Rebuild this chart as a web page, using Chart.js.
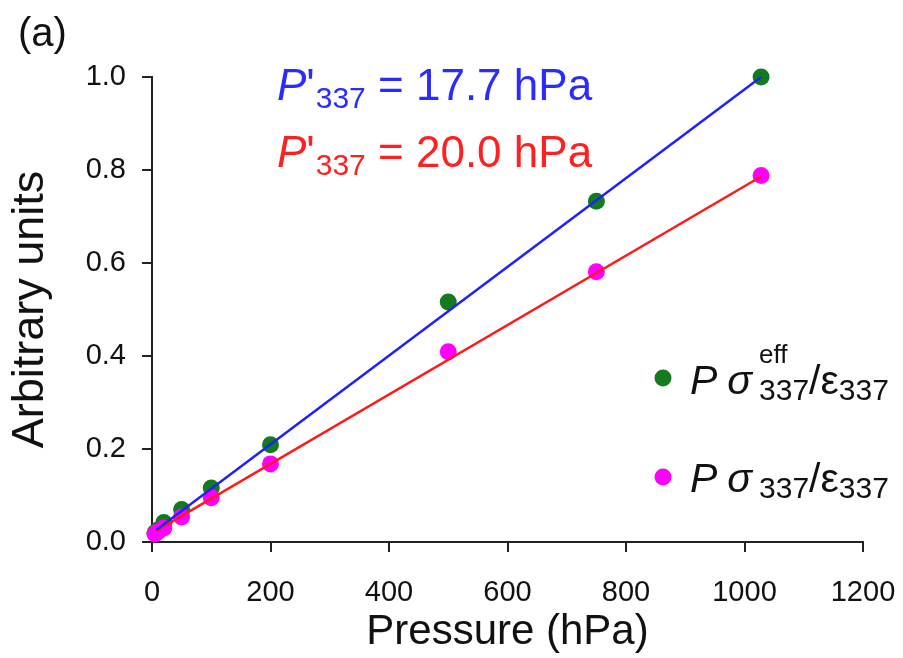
<html>
<head>
    <title>Pressure dependence</title>
</head>
<body style="margin:0; background:#fff">
<div style="width:903px; height:658px"><canvas id="pressure-chart"></canvas></div>
<script src="https://cdn.jsdelivr.net/npm/chart.js"></script>
<script>
    // measured points (pressure in hPa)
    var pressure = [5, 10, 20, 50, 100, 200, 500, 750, 1028];
    var effValues = [0.02, 0.026, 0.042, 0.07, 0.116, 0.209, 0.516, 0.733, 1.0];
    var sigmaValues = [0.017, 0.022, 0.03, 0.054, 0.095, 0.168, 0.409, 0.581, 0.788];

    // linear fits, drawn between two ends
    var fitX = [7, 1028];
    var effFit = [0.026, 1.0];
    var sigmaFit = [0.024, 0.786];

    var xTicks = [0, 200, 400, 600, 800, 1000, 1200];
    var yTicks = [0.0, 0.2, 0.4, 0.6, 0.8, 1.0];

    var FONT = '"Liberation Sans", Arial, sans-serif';

    function toPoints(xs, ys) {
        var out = [];
        for (var i = 0; i < xs.length; i++) out.push({x: xs[i], y: ys[i]});
        return out;
    }

    // draws a run of text pieces one after another on a baseline
    function drawRun(ctx, x, y, parts) {
        parts.forEach(function (p) {
            ctx.font = p.f;
            ctx.fillText(p.t, x, y + (p.dy || 0));
            if (!p.stay) x += ctx.measureText(p.t).width + (p.gap || 0);
        });
    }

    var textPlugin = {
        id: 'labels',
        afterDraw: function (chart) {
            var ctx = chart.ctx;
            ctx.save();
            ctx.textAlign = 'left';
            ctx.textBaseline = 'alphabetic';

            ctx.fillStyle = '#111';
            ctx.font = '40px ' + FONT;
            ctx.fillText('(a)', 18, 46);

            var big = '44px ' + FONT, bigI = 'italic 44px ' + FONT, sub = '30px ' + FONT;
            ctx.fillStyle = '#2b2bff';
            drawRun(ctx, 277, 100, [
                {t: 'P', f: bigI}, {t: "'", f: big, gap: 1}, {t: '337', f: sub, dy: 8},
                {t: ' = 17.7 hPa', f: big}
            ]);
            ctx.fillStyle = '#ff2020';
            drawRun(ctx, 277, 167, [
                {t: 'P', f: bigI}, {t: "'", f: big, gap: 1}, {t: '337', f: sub, dy: 8},
                {t: ' = 20.0 hPa', f: big}
            ]);

            // legend
            var lf = '41px ' + FONT, lfI = 'italic 41px ' + FONT, ls = '30px ' + FONT;
            ctx.fillStyle = '#137a1e';
            ctx.beginPath(); ctx.arc(663, 378, 8.5, 0, Math.PI * 2); ctx.fill();
            ctx.fillStyle = '#ff00ff';
            ctx.beginPath(); ctx.arc(663, 477, 8.5, 0, Math.PI * 2); ctx.fill();

            ctx.fillStyle = '#111';
            drawRun(ctx, 690, 394, [
                {t: 'P', f: lfI, gap: 10}, {t: 'σ', f: lfI, gap: 7},
                {t: 'eff', f: '26px ' + FONT, dy: -31, stay: true},
                {t: '337', f: ls, dy: 6}, {t: '/ε', f: lf}, {t: '337', f: ls, dy: 6}
            ]);
            drawRun(ctx, 690, 492, [
                {t: 'P', f: lfI, gap: 10}, {t: 'σ', f: lfI, gap: 7},
                {t: '337', f: ls, dy: 6}, {t: '/ε', f: lf}, {t: '337', f: ls, dy: 6}
            ]);
            ctx.restore();
        }
    };

    var ctx = document.getElementById('pressure-chart').getContext('2d');
    new Chart(ctx, {
        type: 'scatter',
        data: {
            datasets: [
                {
                    label: 'fit eff',
                    data: toPoints(fitX, effFit),
                    showLine: true,
                    borderColor: '#2020ff',
                    borderWidth: 2.5,
                    pointRadius: 0,
                    clip: false,
                    order: 1
                },
                {
                    label: 'fit sigma',
                    data: toPoints(fitX, sigmaFit),
                    showLine: true,
                    borderColor: '#ff1a1a',
                    borderWidth: 2.5,
                    pointRadius: 0,
                    clip: false,
                    order: 2
                },
                {
                    label: 'P sigma eff / eps',
                    data: toPoints(pressure, effValues),
                    backgroundColor: '#137a1e',
                    borderWidth: 0,
                    pointRadius: 8.5,
                    clip: false,
                    order: 4
                },
                {
                    label: 'P sigma / eps',
                    data: toPoints(pressure, sigmaValues),
                    backgroundColor: '#ff00ff',
                    borderWidth: 0,
                    pointRadius: 8.5,
                    clip: false,
                    order: 3
                }
            ]
        },
        options: {
            responsive: true,
            maintainAspectRatio: false,
            animation: false,
            layout: {padding: {top: 77, right: 40, left: 0, bottom: 0}},
            plugins: {legend: {display: false}, tooltip: {enabled: false}},
            scales: {
                x: {
                    type: 'linear',
                    min: xTicks[0],
                    max: xTicks[xTicks.length - 1],
                    afterBuildTicks: function (s) { s.ticks = xTicks.map(function (v) { return {value: v}; }); },
                    ticks: {font: {size: 29, family: FONT}, color: '#111', padding: 24, maxRotation: 0,
                        callback: function (v) { return String(v); }},
                    grid: {drawOnChartArea: false, tickLength: 10, color: '#222', tickColor: '#222', lineWidth: 2},
                    border: {color: '#222', width: 2},
                    title: {display: true, text: 'Pressure (hPa)', color: '#111',
                        font: {size: 42, family: FONT}, padding: {top: 0, bottom: 0}},
                    afterFit: function (s) { s.height = 116; s.paddingLeft = 0; s.paddingRight = 0; }
                },
                y: {
                    min: yTicks[0],
                    max: yTicks[yTicks.length - 1],
                    afterBuildTicks: function (s) { s.ticks = yTicks.map(function (v) { return {value: v}; }); },
                    ticks: {font: {size: 29, family: FONT}, color: '#111', padding: 16,
                        callback: function (v) { return v.toFixed(1); }},
                    grid: {drawOnChartArea: false, tickLength: 10, color: '#222', tickColor: '#222', lineWidth: 2},
                    border: {color: '#222', width: 2},
                    title: {display: true, text: 'Arbitrary units', color: '#111',
                        font: {size: 45, family: FONT}, padding: {top: 4, bottom: 0}},
                    afterFit: function (s) { s.width = 152; s.paddingTop = 0; s.paddingBottom = 0; }
                }
            }
        },
        plugins: [textPlugin]
    });
</script>
</body>
</html>
